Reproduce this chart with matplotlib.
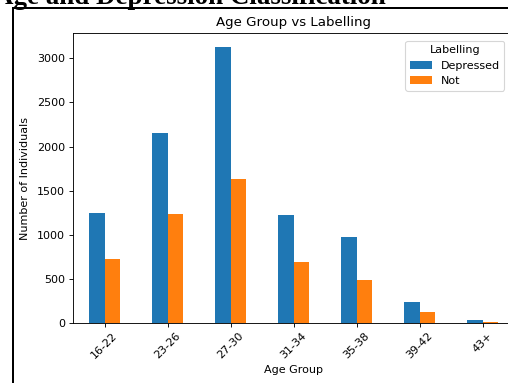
import matplotlib
matplotlib.use("Agg")
import matplotlib.pyplot as plt
import pandas as pd
from matplotlib.lines import Line2D

age_groups = ["16-22", "23-26", "27-30", "31-34", "35-38", "39-42", "43+"]
depressed = [1250, 2155, 3130, 1225, 970, 240, 30]
not_depressed = [720, 1240, 1632, 690, 487, 128, 8]

W, H, DPI = 508, 383, 80
fig = plt.figure(figsize=(W / DPI, H / DPI), dpi=DPI)

# axes placement in pixels: left, right, top, bottom
left_px, right_px, top_px, bottom_px = 73, 514, 33, 323
ax_w, ax_h = right_px - left_px, bottom_px - top_px
ax = fig.add_axes([left_px / W, 1 - bottom_px / H, ax_w / W, ax_h / H])

df = pd.DataFrame({"Depressed": depressed, "Not": not_depressed}, index=age_groups)
df.plot(kind="bar", ax=ax, rot=45, color=["tab:blue", "tab:orange"])

ax.set_title("Age Group vs Labelling")
ax.set_xlabel("Age Group")
ax.set_ylabel("Number of Individuals", labelpad=6)
ax.legend(title="Labelling", loc="upper right",
          bbox_to_anchor=(1 - 4 / ax_w, 1 - 2 / ax_h))

# document heading and frame around the figure
fig.text(-6 / W, 1 - 3.5 / H, "Age and Depression Classification",
         fontfamily="Liberation Serif", fontweight="bold", fontsize=24.3,
         ha="left", va="baseline")
lw = 2 / DPI * 72
fig.add_artist(Line2D([13 / W, 13 / W], [0, 1 - 8 / H], transform=fig.transFigure,
                      color="black", linewidth=lw))
fig.add_artist(Line2D([13 / W, 1], [1 - 8 / H, 1 - 8 / H], transform=fig.transFigure,
                      color="black", linewidth=lw))

fig.savefig("out.png", dpi=DPI)
